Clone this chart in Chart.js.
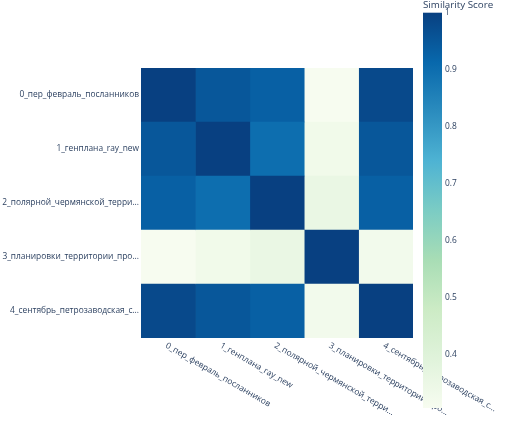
<!DOCTYPE html>
<html><head><meta charset="utf-8">
<script src="https://cdn.jsdelivr.net/npm/chart.js@4"></script>
<style>html,body{margin:0;padding:0;background:#fff}#wrap{width:511px;height:422px}</style>
</head><body><div id="wrap"><canvas id="c"></canvas></div>
<script>
const rowLabels = ["0_пер_февраль_посланников","1_генплана_ray_new","2_полярной_чермянской_терри...","3_планировки_территории_про...","4_сентябрь_петрозаводская_с..."];
const colLabels = ["0_пер_февраль_посланников","1_генплана_ray_new","2_полярной_чермянской_терри...","3_планировки_территории_про...","4_сентябрь_петрозаводская_с..."];
const row0 = [1.00, 0.95, 0.93, 0.307, 0.98];
const row1 = [0.95, 1.00, 0.90, 0.33, 0.95];
const row2 = [0.93, 0.90, 1.00, 0.355, 0.93];
const row3 = [0.307, 0.33, 0.355, 1.00, 0.325];
const row4 = [0.98, 0.95, 0.93, 0.325, 1.00];
const colorbarTitle = "Similarity Score";
const colorbarTicks = [1, 0.9, 0.8, 0.7, 0.6, 0.5, 0.4];

const matrix = [row0,row1,row2,row3,row4];
const zmin = Math.min(...matrix.flat()), zmax = Math.max(...matrix.flat());
const gnbu = [[247,252,240],[224,243,219],[204,235,197],[168,221,181],[123,204,196],[78,179,211],[43,140,190],[8,104,172],[8,64,129]];
function colorAt(t){
  t=Math.max(0,Math.min(1,t));
  const p=t*(gnbu.length-1), i=Math.min(Math.floor(p),gnbu.length-2), f=p-i;
  const a=gnbu[i], b=gnbu[i+1];
  return `rgb(${Math.round(a[0]+(b[0]-a[0])*f)},${Math.round(a[1]+(b[1]-a[1])*f)},${Math.round(a[2]+(b[2]-a[2])*f)})`;
}
const colorOf = v => colorAt((v-zmin)/(zmax-zmin));
const FONT = {family:"'Open Sans', sans-serif", size:8.4};
const TXT = '#2a3f5f';

const datasets = colLabels.map((c,j)=>({
  label:c,
  data: rowLabels.map(()=>[j, j+1]),
  backgroundColor: matrix.map(r=>colorOf(r[j])),
  borderWidth:0,
  grouped:false,
  barPercentage:1, categoryPercentage:1
}));

const overlay = {
  id:'overlay',
  afterDraw(chart){
    const ctx=chart.ctx, xs=chart.scales.x, ca=chart.chartArea;
    ctx.save();
    ctx.font = `${FONT.size}px ${FONT.family}`;
    ctx.fillStyle = TXT;
    colLabels.forEach((l,j)=>{
      const x = xs.getPixelForValue(j+0.5);
      ctx.save();
      ctx.translate(x-2, ca.bottom+7);
      ctx.rotate(30*Math.PI/180);
      ctx.textAlign='left'; ctx.textBaseline='middle';
      ctx.fillText(l,0,0);
      ctx.restore();
    });
    const cbx = ca.right+10, cbw=19, cbt=12.7, cbb=408;
    const g = ctx.createLinearGradient(0,cbb,0,cbt);
    for(let k=0;k<gnbu.length;k++) g.addColorStop(k/(gnbu.length-1), `rgb(${gnbu[k].join(',')})`);
    ctx.fillStyle=g;
    ctx.fillRect(cbx,cbt,cbw,cbb-cbt);
    ctx.fillStyle=TXT;
    ctx.textAlign='left'; ctx.textBaseline='middle';
    colorbarTicks.forEach(v=>{
      const y = cbb - (v-zmin)/(zmax-zmin)*(cbb-cbt);
      ctx.fillText(String(v), cbx+cbw+3, y);
    });
    ctx.font = `9.8px ${FONT.family}`;
    ctx.fillText(colorbarTitle, cbx, 5);
    ctx.restore();
  }
};

new Chart(document.getElementById('c'),{
  type:'bar',
  data:{labels:rowLabels, datasets},
  options:{
    indexAxis:'y',
    responsive:true, maintainAspectRatio:false, animation:false,
    layout:{padding:{top:68,right:98,bottom:84,left:0}},
    plugins:{legend:{display:false}, tooltip:{enabled:false}},
    scales:{
      x:{type:'linear', min:0, max:colLabels.length, display:false},
      y:{type:'category', grid:{display:false, drawTicks:false}, border:{display:false},
         ticks:{color:TXT, font:FONT, padding:2},
         afterFit(s){ s.width = 141; }}
    }
  },
  plugins:[overlay]
});
</script></body></html>
